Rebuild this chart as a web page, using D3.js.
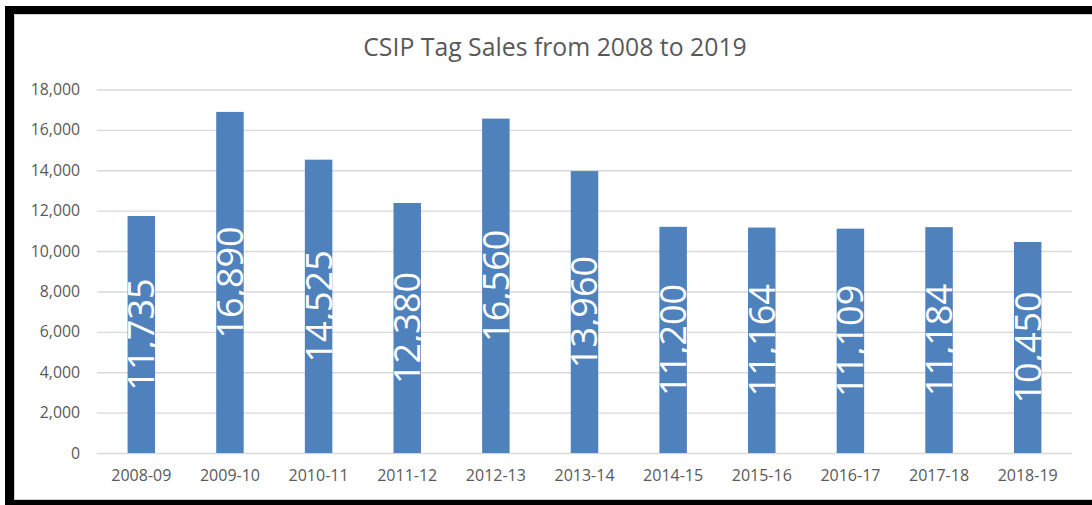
<!DOCTYPE html>
<html>
<head>
<meta charset="utf-8">
<script src="https://cdn.jsdelivr.net/npm/d3@7"></script>
<style>
  html, body { margin: 0; padding: 0; background: #ffffff; }
  svg { display: block; }
</style>
</head>
<body>
<svg id="chart" width="1092" height="505"></svg>
<script>
const categories = ["2008-09","2009-10","2010-11","2011-12","2012-13","2013-14","2014-15","2015-16","2016-17","2017-18","2018-19"];
const sales = [11735, 16890, 14525, 12380, 16560, 13960, 11200, 11164, 11109, 11184, 10450];
const yTicks = [0, 2000, 4000, 6000, 8000, 10000, 12000, 14000, 16000, 18000];
const title = "CSIP Tag Sales from 2008 to 2019";

const svg = d3.select("#chart");
const W = 1092, H = 505;
const font = "'Open Sans', 'Noto Sans', sans-serif";
const textColor = "#595959";

// frame
svg.append("rect").attr("x", 0).attr("y", 0).attr("width", W).attr("height", H).attr("fill", "#ffffff");
svg.append("rect").attr("x", 5).attr("y", 6).attr("width", W - 5).attr("height", 8).attr("fill", "#000");
svg.append("rect").attr("x", 5).attr("y", 6).attr("width", 9).attr("height", H - 6).attr("fill", "#000");
svg.append("rect").attr("x", 5).attr("y", 500).attr("width", W - 5).attr("height", 5).attr("fill", "#000");
svg.append("line").attr("x1", 14).attr("x2", W).attr("y1", 14.5).attr("y2", 14.5).attr("stroke", "#d0d0d0").attr("stroke-width", 1);
svg.append("line").attr("x1", 14.5).attr("x2", 14.5).attr("y1", 14).attr("y2", 500).attr("stroke", "#d0d0d0").attr("stroke-width", 1);
svg.append("line").attr("x1", 14).attr("x2", W).attr("y1", 499.5).attr("y2", 499.5).attr("stroke", "#d0d0d0").attr("stroke-width", 1);

const x = d3.scaleBand().domain(categories).range([97, 1072]).paddingInner(0.69).paddingOuter(0.345);
const y = d3.scaleLinear().domain([0, 18000]).range([453, 89.5]);

// title
svg.append("text")
  .attr("x", 555).attr("y", 56)
  .attr("text-anchor", "middle")
  .attr("font-family", font).attr("font-size", 24.8)
  .attr("fill", textColor)
  .text(title);

// gridlines + y axis
const yAxis = d3.axisLeft(y).tickValues(yTicks).tickFormat(d3.format(",")).tickSize(-(1072 - 97)).tickPadding(17);
const gy = svg.append("g").attr("transform", "translate(97,0)").call(yAxis);
gy.select(".domain").remove();
gy.selectAll(".tick line").attr("stroke", "#d9d9d9").attr("stroke-width", 1.4);
gy.selectAll(".tick text").attr("font-family", font).attr("font-size", 15.8).attr("fill", textColor);

// x axis labels
const xAxis = d3.axisBottom(x).tickSize(0).tickPadding(17);
const gx = svg.append("g").attr("transform", "translate(0,453)").call(xAxis);
gx.select(".domain").remove();
gx.selectAll(".tick text").attr("font-family", font).attr("font-size", 16).attr("fill", textColor);

// bars
svg.append("g").selectAll("rect").data(categories).join("rect")
  .attr("x", d => x(d))
  .attr("width", x.bandwidth())
  .attr("y", (d, i) => y(sales[i]))
  .attr("height", (d, i) => y(0) - y(sales[i]))
  .attr("fill", "#4f81bd");

// data labels
const fmt = d3.format(",");
svg.append("g").selectAll("text").data(categories).join("text")
  .attr("transform", (d, i) => `translate(${x(d) + x.bandwidth() / 2},${(y(sales[i]) + y(0)) / 2}) rotate(-90)`)
  .attr("text-anchor", "middle")
  .attr("dy", "0.36em")
  .attr("font-family", font).attr("font-size", 36)
  .attr("fill", "#ffffff")
  .text((d, i) => fmt(sales[i]));
</script>
</body>
</html>
